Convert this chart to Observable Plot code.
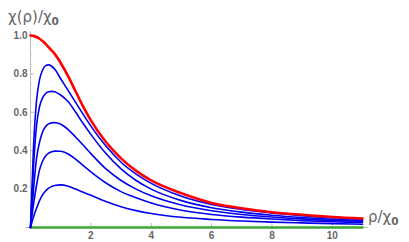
<!DOCTYPE html>
<html>
<head>
<meta charset="utf-8">
<script src="https://cdn.jsdelivr.net/npm/d3@7"></script>
<script src="https://cdn.jsdelivr.net/npm/@observablehq/plot@0.6"></script>
<style>
  html, body { margin: 0; padding: 0; background: white; }
  #chart svg [aria-label$="tick label"] text { font-weight: bold; }
</style>
</head>
<body>
<div id="chart"></div>
<script>
// sample positions along rho/chi0
const xs = [0, 0.1, 0.2, 0.3, 0.4, 0.5, 0.6, 0.7, 0.8, 1.0, 1.25, 1.5, 1.75, 2, 2.5, 3, 3.5, 4, 5, 6, 7, 8, 9, 10, 11];

// red curve (envelope)
const redCurve = [1.0, 0.998, 0.992, 0.983, 0.971, 0.956, 0.939, 0.922, 0.904, 0.857, 0.787, 0.707, 0.628, 0.558, 0.445, 0.36, 0.295, 0.245, 0.178, 0.128, 0.1, 0.079, 0.066, 0.055, 0.047];

// blue curves
const blue1 = [0, 0.42, 0.66, 0.77, 0.82, 0.843, 0.847, 0.84, 0.825, 0.775, 0.713, 0.65, 0.588, 0.528, 0.424, 0.34, 0.278, 0.23, 0.163, 0.12, 0.094, 0.076, 0.062, 0.051, 0.043];
const blue2 = [0, 0.32, 0.53, 0.63, 0.675, 0.698, 0.707, 0.709, 0.707, 0.69, 0.655, 0.6, 0.54, 0.485, 0.385, 0.305, 0.245, 0.2, 0.14, 0.103, 0.08, 0.064, 0.052, 0.043, 0.037];
const blue3 = [0, 0.2, 0.36, 0.445, 0.497, 0.526, 0.54, 0.545, 0.546, 0.538, 0.51, 0.47, 0.428, 0.385, 0.305, 0.245, 0.2, 0.165, 0.117, 0.087, 0.068, 0.055, 0.045, 0.037, 0.032];
const blue4 = [0, 0.12, 0.22, 0.3, 0.345, 0.372, 0.387, 0.395, 0.398, 0.397, 0.383, 0.355, 0.322, 0.29, 0.232, 0.187, 0.155, 0.128, 0.09, 0.068, 0.054, 0.044, 0.036, 0.03, 0.026];
const blue5 = [0, 0.055, 0.1, 0.14, 0.17, 0.19, 0.205, 0.213, 0.219, 0.222, 0.215, 0.2, 0.183, 0.168, 0.135, 0.108, 0.088, 0.073, 0.053, 0.042, 0.034, 0.028, 0.024, 0.02, 0.017];

// green baseline curve
const greenCurve = xs.map(() => 0);

// ticks
const xTicks = [2, 4, 6, 8, 10];
const yTicks = [0.2, 0.4, 0.6, 0.8, 1.0];
const yMinor = d3.range(1, 21).map(i => i * 0.05);

const toRows = (arr, s) => arr.map((y, i) => ({x: xs[i], y, s}));
const blues = [blue1, blue2, blue3, blue4, blue5].flatMap((a, k) => toRows(a, "b" + k));
const red = toRows(redCurve, "red");
const green = toRows(greenCurve, "green");

const chart = Plot.plot({
  width: 409,
  height: 242,
  marginLeft: 30,
  marginRight: 47,
  marginTop: 35,
  marginBottom: 15,
  style: {fontFamily: "Liberation Sans, Arial, sans-serif", background: "white", overflow: "visible"},
  x: {domain: [0, 11]},
  y: {domain: [0, 1]},
  marks: [
    // axis lines
    Plot.ruleX([0], {y1: 0, y2: 1.02, stroke: "#bbb", strokeWidth: 1}),
    Plot.ruleY([0], {x1: -0.15, x2: 11.2, stroke: "#bbb", strokeWidth: 1}),
    // minor & major inward ticks on y
    Plot.axisY({ticks: yMinor, text: null, tickSize: 2, dx: 2, color: "#ccc", label: null}),
    Plot.axisY({ticks: yTicks, text: null, tickSize: 4, dx: 4, color: "#bbb", label: null}),
    Plot.axisX({ticks: xTicks, text: null, tickSize: 4, dy: -4, color: "#bbb", label: null}),
    // tick labels
    Plot.axisY({ticks: yTicks, tickFormat: d => d.toFixed(1), tickSize: 0, tickPadding: 3, fontSize: 10, color: "#666", label: null}),
    Plot.axisX({ticks: xTicks, tickSize: 0, tickPadding: 4, fontSize: 10, color: "#666", label: null}),
    // curves
    Plot.line(green, {x: "x", y: "y", stroke: "#3aaa35", strokeWidth: 2.4}),
    Plot.line(blues, {x: "x", y: "y", z: "s", stroke: "#0000ee", strokeWidth: 1.6, curve: "monotone-x"}),
    Plot.line(red, {x: "x", y: "y", stroke: "#ff0000", strokeWidth: 2.6, curve: "monotone-x"})
  ]
});

const svg = d3.select(chart);
// y-axis title
const t1 = svg.append("text")
  .attr("x", 8).attr("y", 22)
  .attr("text-anchor", "start")
  .attr("font-family", "DejaVu Sans, sans-serif")
  .attr("font-size", 15)
  .attr("fill", "#666");
t1.append("tspan").text("χ(ρ)/χ");
t1.append("tspan").attr("dy", 3).attr("font-size", 10.5).attr("font-weight", "bold").text("0");
// x-axis title
const t2 = svg.append("text")
  .attr("x", 368).attr("y", 222)
  .attr("text-anchor", "start")
  .attr("font-family", "DejaVu Sans, sans-serif")
  .attr("font-size", 15)
  .attr("fill", "#666");
t2.append("tspan").text("ρ/χ");
t2.append("tspan").attr("dy", 3).attr("font-size", 10.5).attr("font-weight", "bold").text("0");

document.getElementById("chart").appendChild(chart);
</script>
</body>
</html>
